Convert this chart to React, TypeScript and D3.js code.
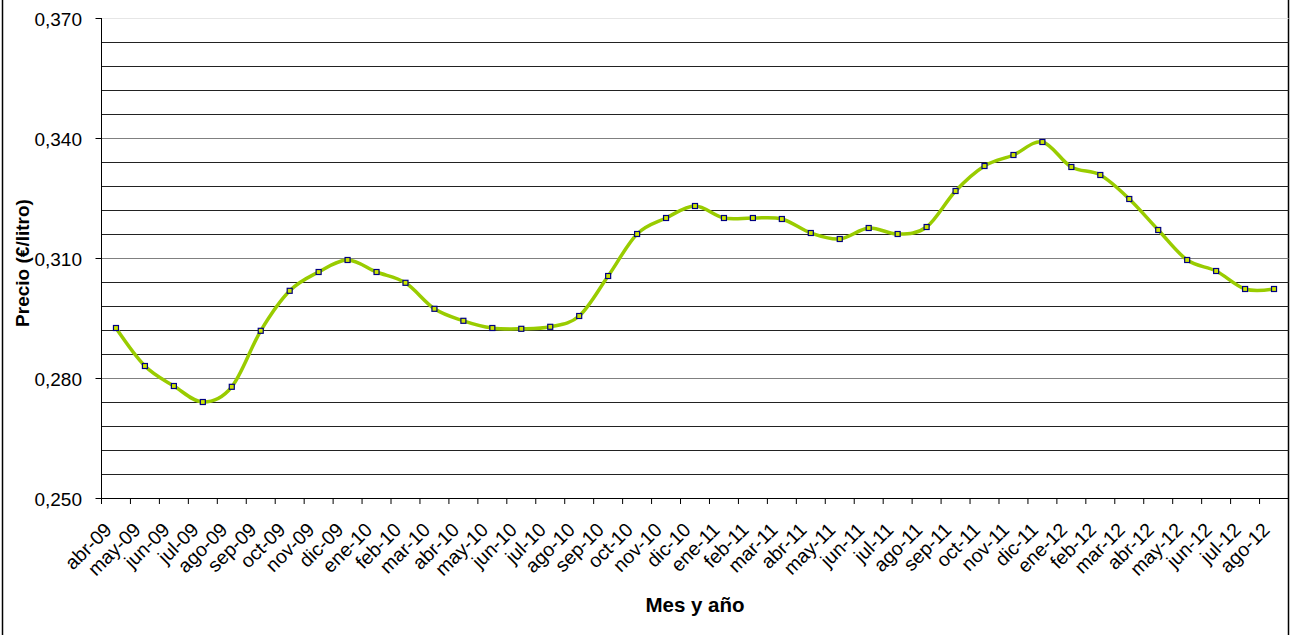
import React from "react";
import * as d3 from "d3";

const months = [
  "abr-09","may-09","jun-09","jul-09","ago-09","sep-09","oct-09","nov-09","dic-09",
  "ene-10","feb-10","mar-10","abr-10","may-10","jun-10","jul-10","ago-10","sep-10","oct-10","nov-10","dic-10",
  "ene-11","feb-11","mar-11","abr-11","may-11","jun-11","jul-11","ago-11","sep-11","oct-11","nov-11","dic-11",
  "ene-12","feb-12","mar-12","abr-12","may-12","jun-12","jul-12","ago-12",
];
const prices = [
  0.2925,0.2830,0.2780,0.2740,0.2778,0.2918,0.3018,0.3065,0.3095,
  0.3065,0.3038,0.2973,0.2943,0.2925,0.2923,0.2928,0.2955,0.3055,0.3160,0.3200,0.3230,
  0.3200,0.3200,0.31975,0.31625,0.31475,0.3175,0.3160,0.31775,0.32675,0.3330,0.33575,0.3390,
  0.33275,0.33075,0.32475,0.3170,0.3095,0.30675,0.30225,0.30225,
];
const majorTicks = [0.25, 0.28, 0.31, 0.34, 0.37];
const yTickLabels = ["0,250", "0,280", "0,310", "0,340", "0,370"];
const minorStep = 0.006;

const W = 1292, H = 635;
const plot = { left: 101.5, right: 1288.5, top: 18, bottom: 498 };
const FONT = "'Liberation Sans', Arial, sans-serif";

export default function App() {
  const x = d3.scaleBand<string>().domain(months).range([plot.left, plot.right]).padding(0);
  const y = d3.scaleLinear().domain([0.25, 0.37]).range([plot.bottom, plot.top]);
  const cx = (m: string) => (x(m) as number) + x.bandwidth() / 2;

  const minors = d3.range(0, 21).map((i) => 0.25 + i * minorStep);
  const line = d3
    .line<number>()
    .x((_, i) => cx(months[i]))
    .y((d) => y(d))
    .curve(d3.curveCardinal.tension(0));

  const boundaries = d3.range(0, months.length + 1).map((i) => plot.left + i * x.bandwidth());

  return (
    <svg width={W} height={H} style={{ position: "absolute", left: 0, top: 0, background: "#fff" }}>
      <rect x={0} y={0} width={W} height={H} fill="#fff" />
      {/* outer border */}
      <line x1={2.5} x2={2.5} y1={0} y2={H} stroke="#000" strokeWidth={1.5} />
      <line x1={1288.5} x2={1288.5} y1={0} y2={H} stroke="#000" strokeWidth={1.5} />
      {/* gridlines */}
      {minors.map((v, i) => {
        const isMajor = i % 5 === 0;
        if (i === 0) return null;
        const stroke = i === 20 ? "#e6e6e6" : isMajor ? "#808080" : "#222";
        return (
          <line key={i} x1={plot.left} x2={plot.right} y1={Math.round(y(v)) + 0.5} y2={Math.round(y(v)) + 0.5} stroke={stroke} strokeWidth={1} />
        );
      })}
      {/* y axis */}
      <line x1={plot.left} x2={plot.left} y1={plot.top} y2={plot.bottom} stroke="#000" strokeWidth={1} />
      {majorTicks.map((v, i) => (
        <g key={i}>
          <line x1={plot.left - 6} x2={plot.left} y1={Math.round(y(v)) + 0.5} y2={Math.round(y(v)) + 0.5} stroke="#000" />
          <text x={82} y={y(v) + 8} textAnchor="end" fontFamily={FONT} fontSize={19}>
            {yTickLabels[i]}
          </text>
        </g>
      ))}
      {/* x axis */}
      <line x1={plot.left} x2={plot.right} y1={plot.bottom + 0.5} y2={plot.bottom + 0.5} stroke="#000" />
      {boundaries.map((bx, i) => (
        <line key={i} x1={bx} x2={bx} y1={plot.bottom} y2={plot.bottom + 6} stroke="#000" />
      ))}
      {months.map((m) => (
        <text
          key={m}
          transform={`translate(${cx(m) - 3},${plot.bottom + 33}) rotate(-45)`}
          textAnchor="end"
          fontFamily={FONT}
          fontSize={19.5}
        >
          {m}
        </text>
      ))}
      {/* series */}
      <path d={line(prices) || ""} fill="none" stroke="#99CC00" strokeWidth={3.5} />
      {prices.map((v, i) => (
        <rect key={i} x={cx(months[i]) - 2.5} y={y(v) - 2.5} width={5} height={5} fill="#CCE600" stroke="#000080" strokeWidth={1.2} />
      ))}
      {/* titles */}
      <text x={695} y={612} textAnchor="middle" fontFamily={FONT} fontSize={20.5} fontWeight="bold">
        Mes y año
      </text>
      <text transform={`translate(29,263) rotate(-90)`} textAnchor="middle" fontFamily={FONT} fontSize={19} fontWeight="bold">
        Precio (€/litro)
      </text>
    </svg>
  );
}
